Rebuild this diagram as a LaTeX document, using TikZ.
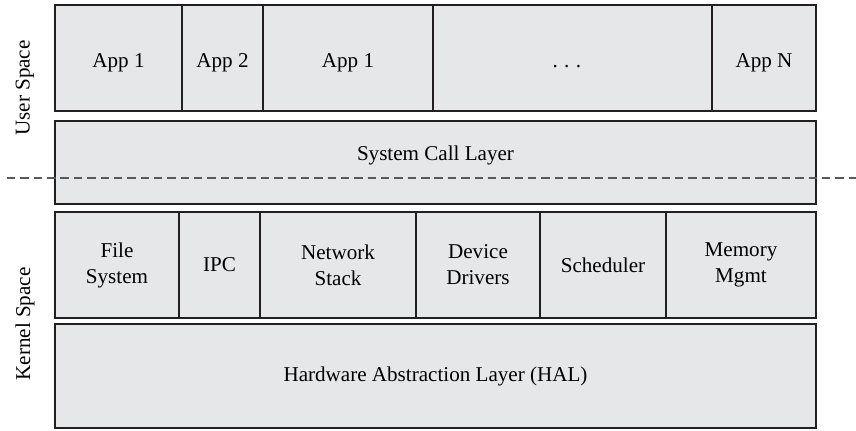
\documentclass[tikz,border=0pt]{standalone}
\usepackage{fontspec}
\setmainfont{Liberation Serif}
\usetikzlibrary{calc}
\definecolor{cellgray}{HTML}{E6E7E9}
\definecolor{edgegray}{HTML}{231F20}
\definecolor{splitgray}{HTML}{58595B}

\tikzset{
  cell/.style 2 args={draw=edgegray, fill=cellgray, line width=1.4pt,
    minimum width=#1*0.025cm, minimum height=#2*0.025cm,
    inner sep=0pt, align=center, font=\fontsize{15}{18.5}\selectfont},
  app/.style={cell={#1}{106}, text height=18pt, text depth=4pt},
  side/.style={rotate=90, font=\fontsize{15}{18.5}\selectfont},
}

\begin{document}
\begin{tikzpicture}[x=0.025cm, y=-0.025cm]
    \useasboundingbox (0,0) rectangle (856,430);
    % user space
    \node[app=127] (app1) at (118.5,58) {App 1};
    \node[app=81] (app2) at (222.5,58) {App 2};
    \node[app=170] (app3) at (348,58) {App 1};
    \node[app=279] (dots) at (572.5,58) {.\hspace{4.5pt}.\hspace{4.5pt}.\hspace{8pt}};
    \node[app=104] (appn) at (764,58) {App N};
    \node[cell={761}{83}, text depth=13pt] (syscall) at (435.5,162.5) {System Call Layer};
    % kernel space
    \node[cell={124}{106}] (fs) at (117,265) {File\\System};
    \node[cell={81}{106}] (ipc) at (219.5,265) {IPC};
    \node[cell={156}{106}] (net) at (338,265) {Network\\Stack};
    \node[cell={124}{106}] (dev) at (478,265) {Device\\Drivers};
    \node[cell={126}{106}] (sched) at (603,265) {Scheduler};
    \node[cell={150}{106}] (mem) at (741,265) {Memory\\Mgmt};
    \node[cell={761}{104}] (hal) at (435.5,376) {Hardware Abstraction Layer (HAL)};
    % boundary
    \coordinate (bl) at (7,178);
    \coordinate (br) at (856,178);
    \draw[splitgray, line width=0.8pt, dash pattern=on 6pt off 3.5pt] (bl) -- (br);
    \node[side] (user) at (25,88) {User Space};
    \node[side] (kernel) at (25,324) {Kernel Space};
\end{tikzpicture}
\end{document}
